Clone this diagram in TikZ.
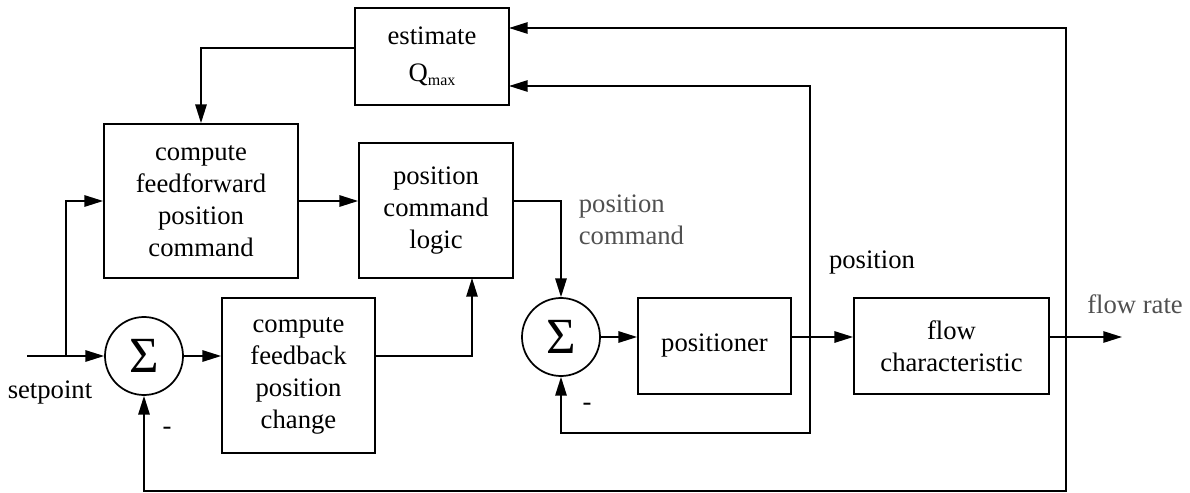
\documentclass[tikz,border=0pt]{standalone}
\usepackage{fontspec}
\setmainfont{Liberation Serif}
\usetikzlibrary{arrows.meta,calc}
\begin{document}
\begin{tikzpicture}[x=0.75pt,y=-0.75pt,
  line width=1.3pt,
  txt/.style={font=\fontsize{20}{24}\selectfont, align=center, inner sep=0pt},
  blk/.style={draw, txt},
  sumnode/.style={draw, circle, minimum size=58.5pt, inner sep=0pt, font=\fontsize{38}{38}\selectfont},
  arr/.style={-{Triangle[length=14pt,width=8.5pt]}},
  lbl/.style={txt, text=labelgray},
]
\definecolor{labelgray}{RGB}{80,80,80}
\useasboundingbox (0,0) rectangle (1190,493);

% blocks
\node[blk, minimum width=115.5pt, minimum height=72.75pt] (est) at (432,56.5)
  {estimate\\[4pt]Q\raisebox{-3pt}{\fontsize{12}{12}\selectfont max}};
\node[blk, minimum width=145.5pt, minimum height=115.5pt] (ff) at (201,201)
  {compute\\feedforward\\position\\command};
\node[blk, minimum width=115.5pt, minimum height=101.25pt] (pcl) at (436,210.5)
  {position\\command\\logic};
\node[blk, minimum width=114.75pt, minimum height=116.25pt] (fb) at (298.5,375.5)
  {compute\\feedback\\position\\change};
\node[blk, minimum width=114.75pt, minimum height=72pt] (pos) at (714.5,346)
  {positioner};
\node[blk, minimum width=146.25pt, minimum height=72pt] (flow) at (951.5,346)
  {flow\\characteristic};
\node[sumnode] (s1) at (144,356) {\raisebox{-2pt}{Σ}};
\node[sumnode] (s2) at (561,337) {\raisebox{-2pt}{Σ}};

% labels
\node[txt] (lsp) at (50,393) {setpoint};
\node[txt] (lm1) at (167,431) {-};
\node[txt] (lm2) at (587,407) {-};
\node[lbl, anchor=west, align=left] (lpc) at (578,220) {position\\command};
\node[txt] (lpos) at (872,263) {position};
\node[lbl] (lfr) at (1135,304) {flow rate};

% coordinates
\coordinate (sp) at (27,356);
\coordinate (j1) at (66,356);
\coordinate (e1) at (355,48);
\coordinate (pc) at (513,201);
\coordinate (fbo) at (375,356);
\coordinate (pcin) at (472,278);
\coordinate (jp) at (810,337);
\coordinate (jpb) at (810,433);
\coordinate (jpt) at (810,86);
\coordinate (est2) at (509,86);
\coordinate (jf) at (1066,337);
\coordinate (jft) at (1066,28);
\coordinate (est1) at (509,28);
\coordinate (jfb) at (1066,491);
\coordinate (out) at (1122,337);

% connectors
\draw[arr] (sp) -- (s1.west);
\draw[arr] (j1) |- (ff.west);
\draw[arr] (e1) -| (ff.north);
\draw[arr] (ff.east) -- (ff.east -| pcl.west);
\draw[arr] (pc) -| (s2.north);
\draw[arr] (s1.east) -- (s1.east -| fb.west);
\draw[arr] (fbo) -| (pcin);
\draw[arr] (s2.east) -- (s2.east -| pos.west);
\draw[arr] (s2.east -| pos.east) -- (s2.east -| flow.west);
\draw[arr] (s2.east -| flow.east) -- (out);
\draw[arr] (jp) -- (jpb) -| (s2.south);
\draw[arr] (jp) -- (jpt) -- (est2);
\draw[arr] (jf) -- (jft) -- (est1);
\draw[arr] (jf) -- (jfb) -| (s1.south);
\end{tikzpicture}
\end{document}
